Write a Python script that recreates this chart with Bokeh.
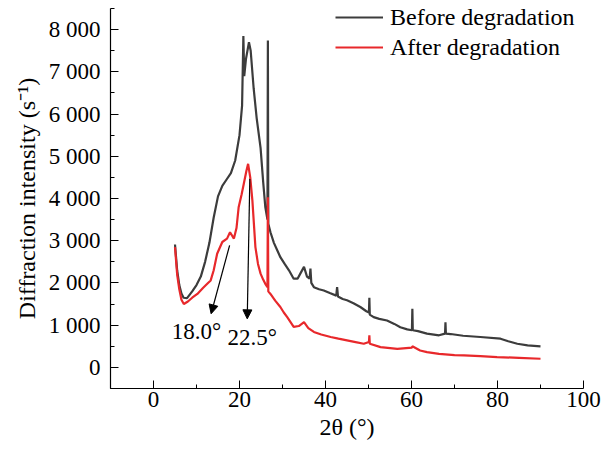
import math
from bokeh.plotting import figure
from bokeh.models import (Range1d, FixedTicker, Legend, LegendItem, Label, Arrow,
                          NormalHead)
from bokeh.embed import file_html
from bokeh.resources import INLINE

# ---------------- data ----------------
before_x = [5.0, 5.5, 6.0, 6.5, 7.0, 7.8, 9.0, 10.0, 11.0, 12.0, 13.0, 14.0, 15.0, 16.0,
            17.0, 18.0, 19.0, 20.0, 20.6, 20.9, 21.1, 21.5, 22.2, 22.6, 23.3, 24.0, 24.9,
            25.5, 26.0, 26.5, 26.6, 26.7, 27.2, 28.0, 28.8, 29.5, 30.5, 31.5, 32.6, 33.5,
            34.3, 35.0, 35.7, 36.3, 36.5, 36.7, 37.3, 38.5, 39.6, 41.0, 42.5, 42.7, 42.9,
            44.0, 45.0, 46.5, 48.1, 49.5, 50.1, 50.2, 50.3, 51.2, 52.5, 54.3, 56.0, 57.4,
            59.0, 60.1, 60.2, 60.3, 61.5, 63.6, 66.4, 67.8, 67.9, 68.0, 69.1, 72.0, 76.0,
            80.7, 82.5, 84.6, 87.0, 90.0]
before_y = [2910, 2300, 1950, 1750, 1650, 1640, 1800, 1950, 2150, 2500, 2950, 3550, 4050, 4300,
            4450, 4600, 4900, 5500, 6200, 7850, 6900, 7300, 7700, 7500, 6600, 5900, 5200,
            4400, 3800, 3500, 7740, 3400, 3200, 2950, 2770, 2610, 2450, 2300, 2100, 2100,
            2250, 2380, 2150, 2100, 2340, 2000, 1900, 1850, 1820, 1760, 1700, 1900, 1680,
            1620, 1590, 1520, 1430, 1330, 1300, 1650, 1250, 1190, 1150, 1110, 1030, 950,
            900, 880, 1390, 880, 860, 800, 760, 800, 1070, 800, 790, 750, 720,
            680, 620, 560, 520, 500]

after_x = [5.0, 5.5, 6.0, 6.5, 7.05, 8.0, 9.0, 10.2, 11.5, 12.5, 13.3, 14.0, 14.8, 16.0,
           17.1, 17.8, 18.7, 19.3, 19.8, 20.5, 21.0, 21.6, 22.0, 22.5, 23.0, 23.7, 24.3,
           24.9, 25.5, 26.0, 26.5, 26.6, 26.7, 27.2, 28.3, 29.5, 30.3, 31.1, 32.6, 33.8,
           35.0, 36.0, 37.3, 39.0, 41.2, 43.0, 45.0, 47.0, 48.9, 50.1, 50.2, 50.3, 52.8,
           56.7, 60.1, 60.2, 62.0, 63.6, 66.4, 70.0, 72.2, 76.0, 79.9, 85.0, 90.0]
after_y = [2850, 2200, 1850, 1600, 1500, 1560, 1650, 1740, 1880, 1980, 2060, 2300, 2690, 2970,
           3050, 3200, 3050, 3300, 3790, 4100, 4350, 4650, 4820, 4500, 3950, 2850, 2450,
           2220, 2080, 1980, 1900, 4030, 1800, 1740, 1580, 1430, 1300, 1190, 960, 980,
           1070, 930, 840, 780, 720, 680, 640, 600, 560, 600, 760, 560, 480,
           440, 470, 500, 400, 360, 320, 290, 284, 265, 245, 225, 205]

series_labels = ["Before degradation", "After degradation"]
x_major = [0, 20, 40, 60, 80, 100]
x_minor = [-10, 10, 30, 50, 70, 90]
y_major = [0, 1000, 2000, 3000, 4000, 5000, 6000, 7000, 8000]
y_minor = [-500, 500, 1500, 2500, 3500, 4500, 5500, 6500, 7500, 8500]
y_tick_labels = ["0", "1 000", "2 000", "3 000", "4 000", "5 000", "6 000", "7 000", "8 000"]

peak_labels = ["18.0°", "22.5°"]
peak_label_pos = [(10.0, 850), (22.95, 710)]
arrow_pos = [((17.7, 2890), (13.4, 1270)), ((22.4, 4465), (21.8, 1150))]

FONT = "Liberation Serif"
BLACK_C = "#3c3c3c"
RED_C = "#e8282b"

p = figure(width=608, height=451, output_backend="svg", toolbar_location=None,
           x_range=Range1d(-10, 100), y_range=Range1d(-500, 8500),
           min_border_left=110, min_border_right=25, min_border_top=8, min_border_bottom=63)
p.outline_line_color = None
p.xgrid.visible = False
p.ygrid.visible = False
p.background_fill_color = "white"
p.border_fill_color = "white"

r1 = p.line(before_x, before_y, line_color=BLACK_C, line_width=2.2)
r2 = p.line(after_x, after_y, line_color=RED_C, line_width=2.2)

for ax in (p.xaxis[0], p.yaxis[0]):
    ax.axis_line_color = "black"
    ax.axis_line_width = 1.2
    ax.major_tick_line_color = "black"
    ax.minor_tick_line_color = "black"
    ax.major_tick_in = 8
    ax.major_tick_out = 0
    ax.minor_tick_in = 4
    ax.minor_tick_out = 0
    ax.major_label_text_font = FONT
    ax.major_label_text_font_size = "23px"
    ax.major_label_text_color = "black"
    ax.axis_label_text_font = FONT
    ax.axis_label_text_font_size = "24px"
    ax.axis_label_text_font_style = "normal"
    ax.axis_label_text_color = "black"

p.xaxis.ticker = FixedTicker(ticks=x_major, minor_ticks=x_minor)
p.yaxis.ticker = FixedTicker(ticks=y_major, minor_ticks=y_minor)
p.yaxis.major_label_overrides = {v: s for v, s in zip(y_major, y_tick_labels)}
p.xaxis.major_label_standoff = 3
p.yaxis.major_label_standoff = 10
p.yaxis.axis_label = "Diffraction intensity (s\u207b\u00b9)"
p.yaxis.axis_label_standoff = 6
p.xaxis.axis_label = "2θ (°)"
p.xaxis.axis_label_standoff = 4

for (xs, ys), (xe, ye) in arrow_pos:
    p.add_layout(Arrow(end=NormalHead(size=9, fill_color="black", line_color="black"),
                       x_start=xs, y_start=ys, x_end=xe, y_end=ye,
                       line_color="black", line_width=1.2))
for t, (lx, ly) in zip(peak_labels, peak_label_pos):
    p.add_layout(Label(x=lx, y=ly, text=t, text_font=FONT, text_font_size="23px",
                       text_color="black", text_align="center", text_baseline="middle"))

legend = Legend(items=[LegendItem(label=series_labels[0], renderers=[r1]),
                       LegendItem(label=series_labels[1], renderers=[r2])],
                location=(225, 327), orientation="vertical")
legend.border_line_color = None
legend.background_fill_alpha = 0
legend.padding = 0
legend.margin = 0
legend.spacing = 2
legend.label_height = 28
legend.glyph_height = 28
legend.glyph_width = 48
legend.label_standoff = 7
legend.label_text_font = FONT
legend.label_text_font_size = "24px"
legend.label_text_color = "black"
p.add_layout(legend)

open("out.html", "w").write(file_html(p, INLINE))
